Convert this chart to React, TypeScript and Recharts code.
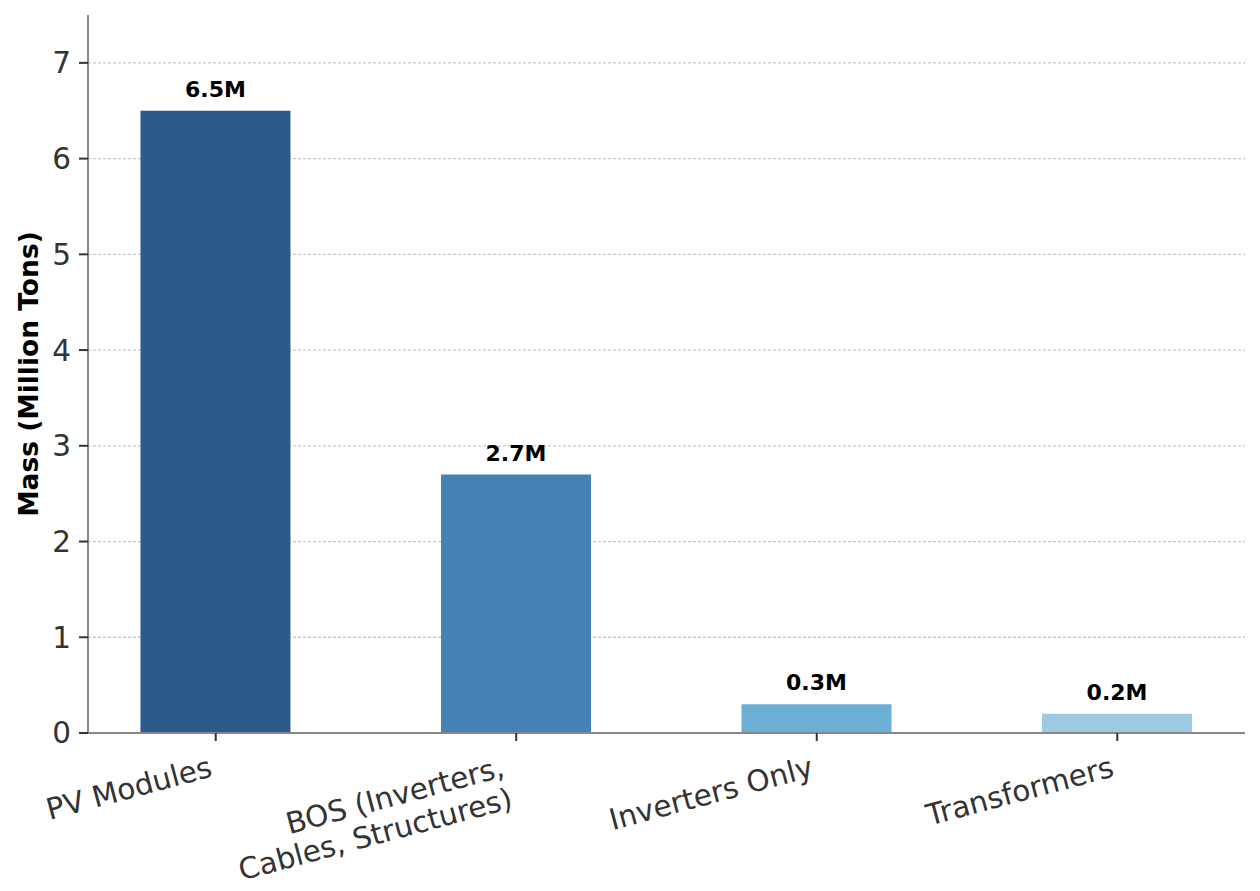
import {
  BarChart,
  Bar,
  Cell,
  XAxis,
  YAxis,
  CartesianGrid,
  LabelList,
} from 'recharts';

const CATEGORIES = [
  'PV Modules',
  'BOS (Inverters,\nCables, Structures)',
  'Inverters Only',
  'Transformers',
];
const MASS = [6.5, 2.7, 0.3, 0.2];
const VALUE_LABELS = ['6.5M', '2.7M', '0.3M', '0.2M'];
const COLORS = ['#2b5b8a', '#4682b4', '#6baed6', '#9ecae1'];
const Y_TICKS = [0, 1, 2, 3, 4, 5, 6, 7];
const X_TICKS = [0, 1, 2, 3];

const FONT = '"DejaVu Sans", sans-serif';

const data = CATEGORIES.map((name, i) => ({
  idx: i,
  name,
  value: MASS[i],
  label: VALUE_LABELS[i],
}));

function XTick(props: any) {
  const { x, y, payload } = props;
  const lines = CATEGORIES[payload.value].split('\n');
  const n = lines.length;
  return (
    <g transform={`translate(${x - 2},${y + 35 + (n - 1) * 31.5})`}>
      <text
        transform="rotate(-15)"
        textAnchor="end"
        fontSize={29.5}
        fill="#333"
        fontFamily={FONT}
      >
        {lines.map((l, i) => (
          <tspan key={i} x={0} y={-(n - 1 - i) * 32.5}>
            {l}
          </tspan>
        ))}
      </text>
    </g>
  );
}

function ValueLabel(props: any) {
  const { x, y, width, index } = props;
  return (
    <text
      x={x + width / 2}
      y={y - 14}
      textAnchor="middle"
      fontSize={22}
      fontWeight="bold"
      fill="#000"
      fontFamily={FONT}
    >
      {VALUE_LABELS[index]}
    </text>
  );
}

export default function App() {
  return (
    <div style={{ position: 'absolute', left: 0, top: 0, background: '#fff' }}>
      <BarChart
        width={1260}
        height={891}
        data={data}
        margin={{ top: 15, right: 15, left: 0, bottom: 8 }}
      >
        <CartesianGrid
          horizontal
          vertical={false}
          syncWithTicks
          stroke="#c8c8c8"
          strokeWidth={1.3}
          strokeDasharray="3 2"
        />
        <XAxis
          dataKey="idx"
          type="number"
          domain={[-0.425, 3.425]}
          allowDataOverflow
          ticks={X_TICKS}
          interval={0}
          height={150}
          tickSize={8}
          tickMargin={0}
          tick={<XTick />}
          axisLine={{ stroke: '#888', strokeWidth: 2 }}
          tickLine={{ stroke: '#333', strokeWidth: 2 }}
        />
        <YAxis
          type="number"
          domain={[0, 7.5]}
          allowDataOverflow
          ticks={Y_TICKS}
          interval={0}
          width={88}
          tickSize={9}
          tickMargin={8}
          tick={{ fontSize: 29.5, fill: '#333', fontFamily: FONT }}
          axisLine={{ stroke: '#888', strokeWidth: 2 }}
          tickLine={{ stroke: '#333', strokeWidth: 2 }}
          label={{
            content: (p: any) => {
              const vb = p.viewBox || {};
              const cy = (vb.y ?? 15) + (vb.height ?? 718) / 2;
              return (
                <text
                  x={38}
                  y={cy}
                  transform={`rotate(-90, 38, ${cy})`}
                  textAnchor="middle"
                  fontSize={26.5}
                  fontWeight="bold"
                  fill="#000"
                  fontFamily={FONT}
                >
                  Mass (Million Tons)
                </text>
              );
            },
          }}
        />
        <Bar dataKey="value" barSize={150} isAnimationActive={false}>
          {data.map((_, i) => (
            <Cell key={i} fill={COLORS[i]} />
          ))}
          <LabelList dataKey="label" content={<ValueLabel />} />
        </Bar>
      </BarChart>
    </div>
  );
}
